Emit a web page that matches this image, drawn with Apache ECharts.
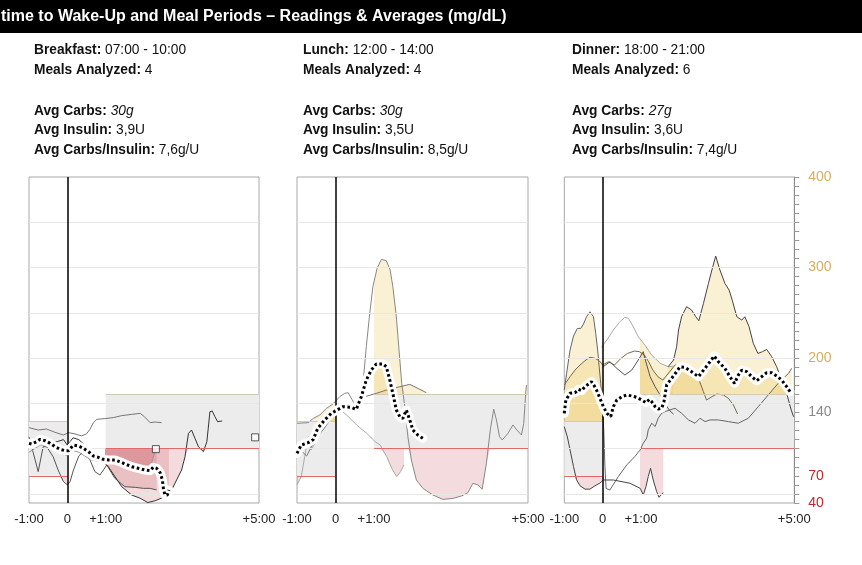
<!DOCTYPE html>
<html><head><meta charset="utf-8">
<script src="https://cdn.jsdelivr.net/npm/echarts@6/dist/echarts.min.js"></script>
<style>html,body{margin:0;padding:0;background:#fff;}#c{width:862px;height:565px;}</style>
</head><body><div id="c"></div>
<script>
// ---------------- DATA (hours relative to meal, mg/dL) ----------------
const xTickLabels = {'-1':'-1:00','0':'0','1':'+1:00','5':'+5:00'};
const yTickLabels = [400,300,200,140,70,40];
const gridValues = [50,100,150,200,250,300,350];
const preRange = [70,130];
const postRange = [100,160];

// Breakfast
const breakfastAvg = [[-1,105.9],[-0.93,105.1],[-0.8,107.7],[-0.71,110.3],[-0.58,108.8],[-0.45,105.9],[-0.32,102.2],[-0.19,99.3],[-0.06,97.8],[0.03,97.8],[0.16,104],[0.29,103],[0.42,100.4],[0.55,96.7],[0.68,91.9],[0.81,90.4],[0.94,88.2],[1.07,87.5],[1.24,87.5],[1.37,85.6],[1.5,83.1],[1.68,80.1],[1.85,78.3],[2.03,76.4],[2.16,75.7],[2.24,79.4],[2.33,78.3],[2.42,73.5],[2.48,65.4],[2.51,54.4],[2.55,48.8],[2.61,48.8],[2.65,54.4]];
const breakfastMeal1 = [[-1,123.2],[-0.76,120.6],[-0.54,121.7],[-0.32,118],[-0.1,115.1],[0.03,117.7],[0.2,116.3],[0.37,114.1],[0.5,116.3],[0.59,121.4],[0.68,128.7],[0.77,132.4],[0.98,133.2],[1.2,134.3],[1.42,136.5],[1.68,137.9],[1.9,139],[2.01,135.4],[2.16,128.7],[2.29,129.4],[2.46,128.7]];
const breakfastMeal2 = [[-1,113],[-0.84,87.5],[-0.76,74.6],[-0.7,87.5],[-0.63,102.2],[-0.54,102.2],[-0.37,91.1],[-0.24,76.4],[-0.1,63.5],[0,60],[0.07,63.5],[0.16,76.4],[0.3,92],[0.45,98],[0.59,87.5],[0.72,74.6],[0.85,70.9],[1.03,81.9],[1.24,67.2],[1.5,58],[1.77,57.3],[1.98,56.2],[2.16,56.2],[2.33,54.4]];
const breakfastMeal3 = [[-1,100],[-0.85,106],[-0.7,112],[-0.55,110],[-0.4,106],[-0.25,108],[-0.1,110],[0,104],[0.15,112],[0.3,110],[0.45,104],[0.6,98],[0.8,92],[1.07,80],[1.42,58],[1.68,48.8],[1.9,45.2],[2.1,40.5],[2.29,42.5],[2.55,47],[2.72,54.4],[2.85,65.4],[2.98,76.4],[3.07,91.1],[3.16,116.9],[3.24,120.6],[3.33,111.4],[3.42,102.2],[3.55,96.7],[3.64,107.7],[3.72,140.8],[3.78,141.6],[3.85,135.4],[3.92,129.8],[4.04,130.6]];
const breakfastMeal4 = [[-1,96],[-0.85,100],[-0.7,104],[-0.55,104],[-0.4,100],[-0.25,96],[-0.1,94],[0,92],[0.15,98],[0.3,96],[0.45,92],[0.6,88],[0.8,86],[1.0,85],[1.2,85],[1.4,82],[1.6,79],[1.8,76],[2.0,74],[2.16,76],[2.22,88],[2.31,99.5]];
const breakfastMarks = [[2.31,99.5],[4.9,112.5]];
const breakfastInfo = ['{b|Breakfast:} 07:00 - 10:00','{b|Meals Analyzed:} 4','','{b|Avg Carbs:} {i|30g}','{b|Avg Insulin:} 3,9U','{b|Avg Carbs/Insulin:} 7,6g/U'];

// Lunch
const lunchAvg = [[-1,94.8],[-0.89,104],[-0.71,106.6],[-0.58,110],[-0.46,122.5],[-0.28,131.7],[-0.11,139],[0.07,143.4],[0.2,146.4],[0.41,145.6],[0.54,143.4],[0.67,157.4],[0.8,175.8],[0.93,186.9],[1.06,193.5],[1.23,193.5],[1.32,190.5],[1.41,175.8],[1.49,161],[1.58,142.7],[1.67,135.3],[1.75,133.4],[1.84,142.7],[1.93,131.7],[2.01,120.6],[2.14,115],[2.27,111.4]];
const lunchMeal1 = [[-1,128],[-0.71,128.7],[-0.58,133.4],[-0.41,137.1],[-0.24,144.4],[-0.07,149.2],[0.11,157.4],[0.24,161.1],[0.33,161.8],[0.46,151.9],[0.58,146.4],[0.67,153.7],[0.73,179.5],[0.8,212.6],[0.89,249.4],[0.97,278.8],[1.08,299.1],[1.19,309],[1.32,307.6],[1.42,297.2],[1.49,278.8],[1.58,245.7],[1.65,208.9],[1.72,172.1],[1.8,146.4],[1.88,113.2],[1.97,87.5],[2.1,65.4],[2.27,56.2],[2.53,48.8],[2.79,44],[3.05,45.1],[3.27,47.7],[3.44,51.4],[3.57,61.8],[3.7,59.9],[3.81,55.2],[3.92,83.9],[4.02,120.7],[4.11,143.6],[4.18,131.7],[4.26,113.3],[4.33,109.6],[4.48,117],[4.61,126.2],[4.71,120.6],[4.83,115.1],[4.89,128],[4.94,161.1],[4.96,170.3]];
const lunchMeal2 = [[-1,59.9],[-0.89,69.1],[-0.8,91.1],[-0.71,113.2],[-0.63,98.5],[-0.54,105.8],[-0.46,115],[-0.33,120.5],[-0.15,131.5],[-0.02,138.9],[0.1,146],[0.2,140],[0.29,137.2],[0.55,126.1],[0.81,117],[1.03,107.7],[1.16,104],[1.33,91.1],[1.46,78.3],[1.59,69],[1.69,74.6],[1.78,82]];
const lunchMeal3 = [[-1,100],[-0.85,96],[-0.75,92],[-0.65,100],[-0.5,112],[-0.3,122],[-0.1,134],[0.05,144],[0.2,150],[0.35,148],[0.5,145],[0.65,150],[0.76,157.4],[1.06,161.1],[1.32,164.7],[1.67,168.4],[1.93,171],[2.14,166.6],[2.36,161.8]];
const lunchMarks = [];
const lunchInfo = ['{b|Lunch:} 12:00 - 14:00','{b|Meals Analyzed:} 4','','{b|Avg Carbs:} {i|30g}','{b|Avg Insulin:} 3,5U','{b|Avg Carbs/Insulin:} 8,5g/U'];

// Dinner
const dinnerAvg = [[-1,139],[-0.96,153.7],[-0.85,161.1],[-0.72,161.8],[-0.63,165.5],[-0.55,164],[-0.46,168.4],[-0.37,171.4],[-0.29,174],[-0.23,170.3],[-0.16,164.8],[-0.07,155.6],[0.02,146.4],[0.11,139],[0.21,135.3],[0.28,146.4],[0.37,153.7],[0.5,157.4],[0.63,159.3],[0.76,158.2],[0.89,156.7],[1.02,153.7],[1.13,150.8],[1.22,154.5],[1.28,151.9],[1.37,146.4],[1.45,143.8],[1.54,144.5],[1.6,151.9],[1.67,170.3],[1.8,177.6],[1.93,185],[2.02,190.5],[2.15,189.8],[2.32,185],[2.5,179.5],[2.67,188.7],[2.8,196],[2.91,202.3],[3.02,196],[3.19,188.7],[3.32,179.5],[3.44,172.1],[3.54,181.3],[3.63,186.8],[3.76,185],[3.89,179.5],[4.02,175],[4.15,179.5],[4.28,183.9],[4.41,183.9],[4.54,180.3],[4.67,175.8],[4.8,168.4],[4.89,162.9]];
const dinnerMeal1 = [[-1,164.8],[-0.94,183.2],[-0.85,208.9],[-0.76,224.4],[-0.66,232.8],[-0.57,232.8],[-0.5,237.6],[-0.42,245.7],[-0.33,251.2],[-0.24,245.7],[-0.18,227.3],[-0.13,208.9],[-0.09,190.5],[-0.05,172.1],[-0.02,157.4],[0.03,120],[0.06,80],[0.09,56],[0.19,54.4],[0.41,69.2],[0.63,82.1],[0.84,91.3],[0.98,98.6],[1.06,106],[1.15,111.6],[1.19,120.8],[1.28,128.1],[1.37,124.4],[1.45,133.6],[1.54,139.1],[1.63,141],[1.89,144.6],[2.06,139.1],[2.24,131.7],[2.41,128.1],[2.54,133.6],[2.67,129.9],[2.8,131.7],[3.02,131.7],[3.28,129.9],[3.54,128.1],[3.8,133.6],[4.06,146.4],[4.32,159.3],[4.58,172.2],[4.85,183.2],[4.93,188.7]];
const dinnerMeal2 = [[-1,124.3],[-0.92,113],[-0.85,98.6],[-0.76,80.2],[-0.68,65.5],[-0.59,59],[-0.46,55.3],[-0.33,55.3],[-0.2,59],[-0.07,62],[0.02,65.4],[0.28,65.4],[0.71,61.8],[0.98,56.2],[1.06,48.8],[1.13,58],[1.19,69.2],[1.25,78.3],[1.32,65.4],[1.41,52.5],[1.47,46.3],[1.58,51.4]];
const dinnerMeal3 = [[-1,170.3],[-0.85,179.5],[-0.72,186.8],[-0.59,192.4],[-0.46,197.2],[-0.33,200.9],[-0.2,199.8],[-0.09,197.2],[0,192.4],[0.15,196],[0.31,192.4],[0.48,199.8],[0.65,205.2],[0.83,207.8],[0.96,207.1],[1.09,203.4],[1.2,196],[1.31,186.8],[1.44,179.5],[1.57,175.8],[1.75,185],[1.89,192.4],[2.15,192.4],[2.37,185],[2.5,177.6],[2.63,162.9],[2.71,153.7],[2.76,151.9],[2.85,157.4],[2.98,160.3],[3.15,159.3],[3.28,155.6],[3.41,148.3],[3.52,138.3]];
const dinnerMeal4 = [[0,190],[0.19,196],[0.37,188.7],[0.58,181.3],[0.76,186.8],[0.93,197.9],[1.06,207.1],[1.1,200],[1.24,179.5],[1.37,168.4],[1.5,159.3],[1.62,150],[1.75,142],[1.85,138]];
const dinnerMeal5 = [[-0.03,212],[0.11,220],[0.28,231],[0.45,240.2],[0.58,245],[0.67,244],[0.8,234.7],[0.93,223.6],[1.1,214.5],[1.28,203.4],[1.5,194.3],[1.71,190.5],[1.85,191]];
const dinnerMeal6 = [[1.71,190.5],[1.85,197.9],[1.93,212.6],[1.98,231],[2.06,245.7],[2.19,256.8],[2.32,253.1],[2.43,245.7],[2.51,241.3],[2.63,260.4],[2.76,282.5],[2.85,297.2],[2.95,312.7],[3.06,297.2],[3.19,282.5],[3.3,275.1],[3.38,264.1],[3.5,245.7],[3.63,242],[3.71,245.7],[3.82,234.7],[3.93,216.3],[4.05,205.2],[4.17,207.1],[4.28,209.6],[4.41,201.6],[4.54,190.5],[4.67,175.8],[4.8,161.1],[4.92,142.7],[4.98,135.3]];
const dinnerMarks = [];
const dinnerInfo = ['{b|Dinner:} 18:00 - 21:00','{b|Meals Analyzed:} 6','','{b|Avg Carbs:} {i|27g}','{b|Avg Insulin:} 3,6U','{b|Avg Carbs/Insulin:} 7,4g/U'];

// ---------------- LAYOUT / STYLE ----------------
const FONT = '"Liberation Sans", Arial, sans-serif';
const TOP = 177, HEIGHT = 326;
const panels = [
  {left:29, width:230, textX:34, info:breakfastInfo, avg:breakfastAvg, marks:breakfastMarks,
   lines:[breakfastMeal1,breakfastMeal2,breakfastMeal3,breakfastMeal4], colors:['#777','#555','#333','#999']},
  {left:297, width:231, textX:303, info:lunchInfo, avg:lunchAvg, marks:lunchMarks,
   lines:[lunchMeal1,lunchMeal2,lunchMeal3], colors:['#888','#aaa','#777']},
  {left:564.3, width:230, textX:572, info:dinnerInfo, avg:dinnerAvg, marks:dinnerMarks,
   lines:[dinnerMeal1,dinnerMeal2,dinnerMeal3,dinnerMeal4,dinnerMeal5,dinnerMeal6], colors:['#666','#444','#7a6a4a','#555','#aaa','#444']}
];
const HI_FILL = 'rgba(237,201,101,0.28)';
const LO_FILL = 'rgba(200,80,90,0.2)';
const infoY = [50,70,90,111,130,150];
const TXT = 13.75;

const grid = [], xAxis = [], yAxis = [], series = [], graphic = [];

graphic.push({type:'rect', shape:{x:0,y:0,width:862,height:33}, style:{fill:'#000'}, z:10});
graphic.push({type:'text', x:1, y:17, z:11, style:{text:'time to Wake-Up and Meal Periods \u2013 Readings & Averages (mg/dL)', fill:'#fff', fontWeight:'bold', fontSize:16, fontFamily:FONT, verticalAlign:'middle'}});

panels.forEach((p, i) => {
  const base = i*3;
  const W = p.width, L = p.left;
  grid.push({left:L, top:TOP, width:W, height:HEIGHT, show:true, borderColor:'#a8a8a8', borderWidth:1, backgroundColor:'transparent'});
  grid.push({left:L, top:TOP, width:W/6, height:HEIGHT, show:false});
  grid.push({left:L+2*W/6, top:TOP, width:4*W/6, height:HEIGHT, show:false});
  xAxis.push({gridIndex:base, type:'value', min:-1, max:5, interval:1,
    axisLine:{show:false}, axisTick:{show:false}, splitLine:{show:false},
    axisLabel:{formatter:v => xTickLabels[String(v)] || '', fontSize:13, color:'#222', fontFamily:FONT, margin:10, showMinLabel:true, showMaxLabel:true}});
  xAxis.push({gridIndex:base+1, type:'value', min:-1, max:0, show:false});
  xAxis.push({gridIndex:base+2, type:'value', min:1, max:5, show:false});
  if (i === 2) {
    yAxis.push({gridIndex:base, type:'value', position:'right', min:40, max:400, interval:10,
      axisLine:{show:true, onZero:false, lineStyle:{color:'#888', width:1}},
      axisTick:{show:true, length:5, lineStyle:{color:'#999'}},
      splitLine:{show:false},
      axisLabel:{show:true, margin:14, fontSize:14, fontFamily:FONT,
        formatter:v => yTickLabels.includes(Number(v)) ? String(v) : '',
        color:v => { const n = Number(v); return n >= 200 ? '#d2b062' : (n === 140 ? '#8a8a8a' : '#c0282e'); }}});
  } else {
    yAxis.push({gridIndex:base, type:'value', min:40, max:400, show:false});
  }
  yAxis.push({gridIndex:base+1, type:'value', min:40, max:400, show:false});
  yAxis.push({gridIndex:base+2, type:'value', min:40, max:400, show:false});

  // background: target bands and grid lines
  series.push({type:'line', xAxisIndex:base, yAxisIndex:base, data:p.avg, silent:true, symbol:'none',
    lineStyle:{opacity:0, width:0}, z:1,
    markArea:{silent:true, itemStyle:{color:'#ececec'},
      data:[[{coord:[-1,preRange[0]]},{coord:[0,preRange[1]]}],[{coord:[1,postRange[0]]},{coord:[5,postRange[1]]}]]},
    markLine:{silent:true, symbol:'none', label:{show:false}, animation:false,
      lineStyle:{color:'#e8e8e2', width:1, type:'solid'},
      data:gridValues.map(v => ({yAxis:v}))}});
  // threshold lines + meal-time line
  series.push({type:'line', xAxisIndex:base, yAxisIndex:base, data:p.avg, silent:true, symbol:'none',
    lineStyle:{opacity:0, width:0}, z:3,
    markLine:{silent:true, symbol:'none', label:{show:false}, animation:false,
      data:[
        [{coord:[-1,preRange[0]], lineStyle:{color:'#e06a6a', width:1, type:'solid'}},{coord:[0,preRange[0]]}],
        [{coord:[1,postRange[0]], lineStyle:{color:'#e06a6a', width:1, type:'solid'}},{coord:[5,postRange[0]]}],
        [{coord:[-1,preRange[1]], lineStyle:{color:'#d3cab4', width:1, type:'solid'}},{coord:[0,preRange[1]]}],
        [{coord:[1,postRange[1]], lineStyle:{color:'#d3cab4', width:1, type:'solid'}},{coord:[5,postRange[1]]}],
        {xAxis:0, lineStyle:{color:'#000', width:1.5, type:'solid'}}
      ]}});

  // fills (semi-transparent layers per reading series, incl. average)
  const fillSources = p.lines.concat([p.avg]);
  fillSources.forEach(d => {
    [[base+1, preRange], [base+2, postRange]].forEach(([gi, rng]) => {
      series.push({type:'line', xAxisIndex:gi, yAxisIndex:gi, silent:true, symbol:'none', z:2,
        data:d.map(([x,v]) => [x, Math.max(v, rng[1])]), lineStyle:{width:0, opacity:0},
        areaStyle:{origin:rng[1], color:HI_FILL, opacity:1}});
      series.push({type:'line', xAxisIndex:gi, yAxisIndex:gi, silent:true, symbol:'none', z:2,
        data:d.map(([x,v]) => [x, Math.min(v, rng[0])]), lineStyle:{width:0, opacity:0},
        areaStyle:{origin:rng[0], color:LO_FILL, opacity:1}});
    });
  });

  // individual readings
  p.lines.forEach((d, k) => {
    series.push({type:'line', xAxisIndex:base, yAxisIndex:base, data:d, symbol:'none', silent:true, z:4,
      lineStyle:{color:p.colors[k], width:1}});
  });
  // average: white halo + dotted black
  series.push({type:'line', xAxisIndex:base, yAxisIndex:base, data:p.avg, symbol:'none', silent:true, z:5,
    lineStyle:{color:'#fff', width:9, cap:'round', join:'round'}});
  series.push({type:'line', xAxisIndex:base, yAxisIndex:base, data:p.avg, symbol:'none', silent:true, z:6,
    lineStyle:{color:'#000', width:3, type:[2.6,2.6]}});
  if (p.marks.length) {
    series.push({type:'scatter', xAxisIndex:base, yAxisIndex:base, data:p.marks, symbol:'rect', symbolSize:7, silent:true, z:7,
      itemStyle:{color:'#fff', borderColor:'#333', borderWidth:1}});
  }

  // info text
  p.info.forEach((t, k) => {
    if (!t) return;
    graphic.push({type:'text', x:p.textX, y:infoY[k], z:11, style:{text:t, fill:'#111', fontSize:TXT, fontFamily:FONT, verticalAlign:'middle',
      rich:{b:{fontWeight:'bold', fontSize:TXT, fontFamily:FONT, fill:'#111'}, i:{fontStyle:'italic', fontSize:TXT, fontFamily:FONT, fill:'#111'}}}});
  });
});

const chart = echarts.init(document.getElementById('c'), null, {renderer:'canvas'});
chart.setOption({animation:false, backgroundColor:'#fff', grid, xAxis, yAxis, series, graphic});
</script></body></html>
